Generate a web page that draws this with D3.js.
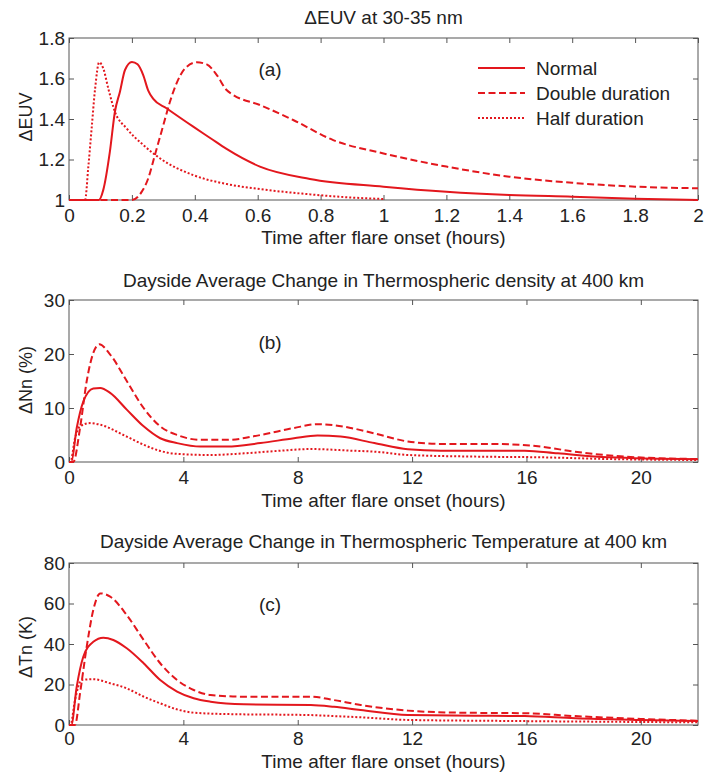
<!DOCTYPE html>
<html>
<head>
<meta charset="utf-8">
<script src="https://cdn.jsdelivr.net/npm/d3@7"></script>
<style>
  body { margin: 0; background: #fff; }
  text { font-family: Arial, "Liberation Sans", sans-serif; fill: #222; }
</style>
</head>
<body>
<div id="chart"></div>
<script>
// ---- data: [hours, value] ----
// (a) ΔEUV at 30-35 nm
const euvNormal = [[0,1],[0.095,1],[0.109,1.05],[0.13,1.239],[0.146,1.436],[0.162,1.535],[0.178,1.642],[0.2,1.682],[0.218,1.67],[0.236,1.617],[0.252,1.54],[0.268,1.499],[0.31,1.453],[0.395,1.362],[0.45,1.305],[0.501,1.252],[0.607,1.165],[0.766,1.104],[1.0,1.066],[1.2,1.041],[1.4,1.025],[1.6,1.016],[1.8,1.006],[2.0,1.0]]
const euvDouble = [[0,1],[0.2,1],[0.231,1.04],[0.252,1.107],[0.273,1.222],[0.3,1.37],[0.321,1.485],[0.342,1.576],[0.369,1.65],[0.406,1.68],[0.438,1.67],[0.47,1.617],[0.501,1.543],[0.522,1.519],[0.607,1.469],[0.713,1.395],[0.84,1.296],[1.0,1.23],[1.2,1.165],[1.4,1.115],[1.6,1.085],[1.8,1.066],[2.0,1.058]]
const euvHalf = [[0,1],[0.051,1],[0.061,1.156],[0.072,1.354],[0.083,1.55],[0.096,1.68],[0.109,1.65],[0.125,1.55],[0.146,1.436],[0.183,1.354],[0.236,1.272],[0.289,1.206],[0.395,1.123],[0.501,1.079],[0.607,1.054],[0.766,1.028],[0.9,1.012],[1.0,1.005]]

// (b) ΔNn (%)
const nnNormal = [[0,0],[0.08,0],[0.27,6.3],[0.5,11.2],[0.85,13.6],[1.09,13.7],[1.44,12.8],[2.02,9.7],[2.61,6.6],[3.19,4.4],[3.78,3.5],[4.6,2.85],[5.53,2.85],[6.7,3.5],[7.87,4.4],[8.69,4.9],[9.5,4.7],[10.68,3.5],[11.85,2.36],[13,2.1],[15.94,2.1],[17.1,1.6],[18.87,0.87],[22,0.5]]
const nnDouble = [[0,0],[0.15,0],[0.386,6.3],[0.62,15],[0.85,20.2],[1.06,21.8],[1.44,19.9],[2.02,15],[2.61,10],[3.19,6.6],[3.78,5.0],[4.6,4.1],[5.53,4.1],[6.7,5.0],[7.87,6.3],[8.69,7.0],[9.3,6.8],[9.86,6.3],[10.68,5.3],[11.85,3.8],[13.0,3.35],[14.77,3.35],[16.5,2.85],[17.7,1.9],[19.45,1.0],[22,0.55]]
const nnHalf = [[0,0],[0.05,0],[0.21,4.4],[0.386,6.6],[0.74,7.2],[1.09,6.9],[2.02,4.7],[2.61,3.2],[3.19,2.05],[3.78,1.5],[4.95,1.3],[6.12,1.6],[7.29,2.05],[8.46,2.4],[9.86,2.1],[10.68,1.92],[11.85,1.3],[14.19,1.0],[16.5,0.87],[18.87,0.55],[22,0.37]]

// (c) ΔTn (K)
const tnNormal = [[0,0],[0.08,0],[0.27,18.9],[0.5,33.7],[0.85,41.1],[1.2,43.1],[1.55,42],[2.02,37.9],[2.61,30.5],[3.19,22.2],[3.78,16.5],[4.36,13.2],[4.95,11.5],[6.12,10.2],[8.46,9.9],[9.27,9.0],[10.2,7.4],[11.85,4.9],[14.19,4.6],[15.94,4.4],[17.7,3.3],[20,2.5],[22,2.0]]
const tnDouble = [[0,0],[0.21,0],[0.386,15.6],[0.62,38.7],[0.85,56.8],[1.09,65],[1.44,63.4],[2.02,54.3],[2.61,42],[3.19,30.5],[3.78,22.2],[4.36,17.3],[4.95,14.8],[6.12,14],[8.46,14],[9.27,12.3],[10.2,9.9],[11.85,7.1],[13.6,6.1],[15.94,5.8],[17.7,4.4],[20,3.0],[22,2.1]]
const tnHalf = [[0,0],[0.05,0],[0.21,12.3],[0.44,22.2],[0.85,22.6],[1.44,20.6],[2.02,18.1],[2.61,14],[3.19,10.7],[3.78,7.7],[4.36,6.1],[5.53,5.4],[8.46,4.9],[9.27,4.4],[10.2,3.8],[11.85,2.5],[15.3,2.0],[18.87,1.6],[22,1.3]]

// ticks
const euvXTicks = [0,0.2,0.4,0.6,0.8,1,1.2,1.4,1.6,1.8,2]
const euvYTicks = [1,1.2,1.4,1.6,1.8]
const hourTicks = [0,4,8,12,16,20]
const nnYTicks = [0,10,20,30]
const tnYTicks = [0,20,40,60,80]

const legendNames = ["Normal", "Double duration", "Half duration"]

// ---- layout ----
const W = 705, H = 780
const LEFT = 69, RIGHT = 698, PH = 162
const RED = "#e3171d"
const DASH = ["none", "7,3.5", "2,2"]

const svg = d3.select("#chart").append("svg")
  .attr("width", W)
  .attr("height", H)

const fmt = d => String(+d.toFixed(1))

function drawPanel(p) {
  const x = d3.scaleLinear().domain(p.xDomain).range([LEFT, RIGHT])
  const y = d3.scaleLinear().domain(p.yDomain).range([p.top + PH, p.top])
  const g = svg.append("g")

  // title
  g.append("text")
    .attr("x", (LEFT + RIGHT) / 2)
    .attr("y", p.titleY)
    .attr("text-anchor", "middle")
    .attr("font-size", "19px")
    .text(p.title)

  // axes (inward ticks, mirrored on top/right)
  const bottom = g.append("g")
    .attr("transform", `translate(0, ${p.top + PH})`)
    .call(d3.axisBottom(x).tickValues(p.xTicks).tickFormat(fmt).tickSize(-5).tickSizeOuter(0).tickPadding(p.pad))
  const left = g.append("g")
    .attr("transform", `translate(${LEFT}, 0)`)
    .call(d3.axisLeft(y).tickValues(p.yTicks).tickFormat(fmt).tickSize(-5).tickSizeOuter(0).tickPadding(4))
  g.append("g")
    .attr("transform", `translate(0, ${p.top})`)
    .call(d3.axisTop(x).tickValues(p.xTicks).tickFormat("").tickSize(-5).tickSizeOuter(0))
  g.append("g")
    .attr("transform", `translate(${RIGHT}, 0)`)
    .call(d3.axisRight(y).tickValues(p.yTicks).tickFormat("").tickSize(-5).tickSizeOuter(0))
  g.selectAll(".domain").remove()
  g.selectAll(".tick line").attr("stroke", "#555")
  bottom.selectAll("text").attr("font-size", "19px").attr("fill", "#222").attr("font-family", null)
  left.selectAll("text").attr("font-size", "19px").attr("fill", "#222").attr("font-family", null)

  g.append("rect")
    .attr("x", LEFT).attr("y", p.top)
    .attr("width", RIGHT - LEFT).attr("height", PH)
    .attr("fill", "none").attr("stroke", "#555").attr("stroke-width", 1)

  // curves
  const line = d3.line()
    .x(d => x(d[0]))
    .y(d => y(d[1]))
    .curve(d3.curveMonotoneX)
  p.series.forEach((s, i) => {
    g.append("path")
      .datum(s)
      .attr("fill", "none")
      .attr("stroke", RED)
      .attr("stroke-width", 2)
      .attr("stroke-dasharray", DASH[i])
      .attr("d", line)
  })

  // labels
  g.append("text")
    .attr("x", (LEFT + RIGHT) / 2)
    .attr("y", p.xLabelY)
    .attr("text-anchor", "middle")
    .attr("font-size", "19px")
    .text("Time after flare onset (hours)")
  g.append("text")
    .attr("transform", `translate(32, ${p.yLabelY}) rotate(-90)`)
    .attr("text-anchor", "middle")
    .attr("font-size", "18px")
    .text(p.yLabel)
  g.append("text")
    .attr("x", 270)
    .attr("y", p.tagY)
    .attr("text-anchor", "middle")
    .attr("font-size", "19px")
    .text(p.tag)
}

drawPanel({
  top: 38, titleY: 24, xLabelY: 244, yLabelY: 117, tagY: 76, pad: 8.5,
  title: "\u0394EUV at 30-35 nm", yLabel: "\u0394EUV", tag: "(a)",
  xDomain: [0, 2], yDomain: [1, 1.8], xTicks: euvXTicks, yTicks: euvYTicks,
  series: [euvNormal, euvDouble, euvHalf]
})
drawPanel({
  top: 300, titleY: 287, xLabelY: 507, yLabelY: 380, tagY: 349, pad: 8.5,
  title: "Dayside Average Change in Thermospheric density at 400 km", yLabel: "\u0394Nn (%)", tag: "(b)",
  xDomain: [0, 22], yDomain: [0, 30], xTicks: hourTicks, yTicks: nnYTicks,
  series: [nnNormal, nnDouble, nnHalf]
})
drawPanel({
  top: 563, titleY: 548, xLabelY: 768, yLabelY: 647, tagY: 611, pad: 7,
  title: "Dayside Average Change in Thermospheric Temperature at 400 km", yLabel: "\u0394Tn (K)", tag: "(c)",
  xDomain: [0, 22], yDomain: [0, 80], xTicks: hourTicks, yTicks: tnYTicks,
  series: [tnNormal, tnDouble, tnHalf]
})

// legend in panel (a)
const legend = svg.append("g")
legendNames.forEach((name, i) => {
  const row = legend.append("g")
    .attr("transform", `translate(478, ${68 + i * 25})`)
  row.append("line")
    .attr("x1", 0).attr("x2", 47)
    .attr("stroke", RED)
    .attr("stroke-width", 2)
    .attr("stroke-dasharray", DASH[i])
  row.append("text")
    .attr("x", 58)
    .attr("y", 6.5)
    .attr("font-size", "19px")
    .text(name)
})
</script>
</body>
</html>
